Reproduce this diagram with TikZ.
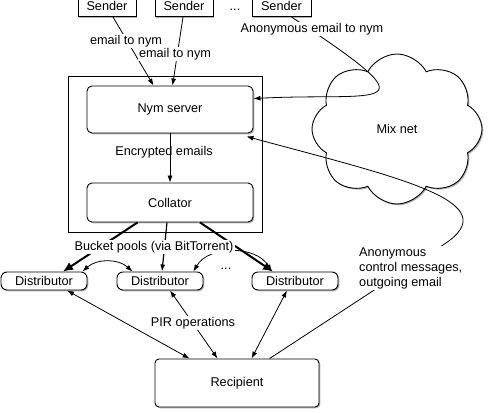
\documentclass[tikz,border=0pt]{standalone}
\usepackage{fontspec}
\setmainfont{Liberation Sans}
\usetikzlibrary{arrows.meta,shapes.symbols,shadows,calc}
\begin{document}
\begin{tikzpicture}[x=1pt,y=-1pt,
  every node/.style={font=\fontsize{12.7}{15}\selectfont, inner sep=0pt},
  shad/.style={drop shadow={shadow xshift=1.3pt,shadow yshift=-1.3pt,fill=black!60,opacity=0.5}},
  sbox/.style={draw, fill=white, shad, line width=0.9pt},
  rbox/.style={sbox, rounded corners=5pt},
  lbl/.style={fill=white, inner sep=1.5pt},
  arr/.style={-{Latex[length=7pt,width=5pt]}, line width=0.8pt},
  darr/.style={{Latex[length=7pt,width=5pt]}-{Latex[length=7pt,width=5pt]}, line width=0.8pt},
  tarr/.style={-{Latex[length=10pt,width=9pt]}, line width=2pt}]
\useasboundingbox (0,0) rectangle (499,413);
% boxes
\node[sbox, minimum width=58pt, minimum height=22pt, anchor=south] (s1) at (107,17) {Sender};
\node[sbox, minimum width=58pt, minimum height=22pt, anchor=south] (s2) at (184,17) {Sender};
\node[sbox, minimum width=59pt, minimum height=22pt, anchor=south] (s3) at (281.5,17) {Sender};
\node (dots1) at (235,9.5) {...};
\node[sbox, minimum width=194pt, minimum height=156pt] (outer) at (165,154) {};
\node[rbox, minimum width=166pt, minimum height=47pt] (nym) at (170,109.5) {Nym server};
\node[rbox, minimum width=166pt, minimum height=39pt] (col) at (170,202.5) {Collator};
\node (enc) at (164,152) {Encrypted emails};
\node[cloud, draw, fill=white, shad, cloud puffs=8, cloud puff arc=125, aspect=1.1, minimum width=170pt, minimum height=150pt, line width=0.9pt] (mix) at (397,129) {Mix net};
\node[rbox, rounded corners=6pt, minimum width=86pt, minimum height=18pt] (d1) at (44,281) {Distributor};
\node[rbox, rounded corners=6pt, minimum width=86pt, minimum height=18pt] (d2) at (160,281) {Distributor};
\node[rbox, rounded corners=6pt, minimum width=86pt, minimum height=18pt] (d3) at (295,281) {Distributor};
\node (dots2) at (226,269) {...};
\node[rbox, rounded corners=4pt, minimum width=164pt, minimum height=48pt] (rec) at (237,383) {Recipient};
% connectors
\draw[arr] ($(s1.south)+(6,0)$) -- ($(nym.north west)+(67,0)$);
\draw[arr] ($(s2.south)+(-1,0)$) -- ($(nym.north west)+(86,0)$);
\draw[arr] (nym) -- (col);
\draw[tarr] ($(col.south west)+(51,0)$) -- ($(d1.north)+(19,0)$);
\draw[arr, line width=1.2pt] ($(col.south)+(-3,0)$) -- ($(d2.north)+(2,0)$);
\draw[tarr] ($(col.south)+(30,0)$) -- ($(d3.north)+(-22,0)$);
\draw[darr] ($(d1.north east)+(-5,0)$) to[bend left=42] ($(d2.north west)+(16,0)$);
\draw[darr] ($(d2.north east)+(-10,0)$) to[bend left=60] ($(d3.north west)+(20,0)$);
\draw[darr] ($(d1.south)+(23,0)$) -- ($(rec.north west)+(35,0)$);
\draw[darr] ($(d2.south)+(10,0)$) -- ($(rec.north west)+(63,0)$);
\draw[darr] ($(d3.south)+(-8,0)$) -- ($(rec.north west)+(97,0)$);
\draw[arr] ($(s3.south)+(10,0)$) .. controls (440,115) and (380,92) .. ($(nym.north east)+(0,13)$);
\coordinate (bend) at (443,245);
\draw[arr] ($(rec.north west)+(115,0)$) -- (bend) .. controls (510,202) and (400,178) .. ($(nym.south east)+(-7,3)$);
% labels
\node[lbl] (le1) at (126,41) {email to nym};
\node[lbl] (le2) at (175,54) {email to nym};
\node[lbl] (la) at (312,29) {Anonymous email to nym};
\node[lbl] (lb) at (154,247) {Bucket pools (via BitTorrent)};
\node[lbl] (lp) at (193,323) {PIR operations};
\node[lbl, align=left, anchor=west] (lc) at (357.5,268) {Anonymous\\control messages,\\outgoing email};
\end{tikzpicture}
\end{document}
